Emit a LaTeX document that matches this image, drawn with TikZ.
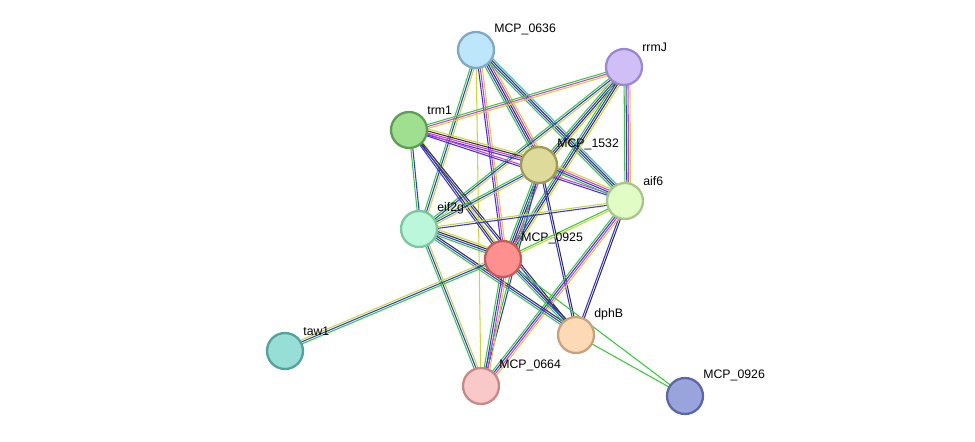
\documentclass[tikz,border=0pt]{standalone}
\usepackage{fontspec}
\setmainfont{Liberation Sans}
\usetikzlibrary{calc}
\definecolor{cGreen}{HTML}{33CC33}
\definecolor{cBlue}{HTML}{3333EE}
\definecolor{cBlack}{HTML}{333333}
\definecolor{cMag}{HTML}{DD33DD}
\definecolor{cYel}{HTML}{C8D830}
\definecolor{cCyan}{HTML}{33BBCC}
\newcommand{\bundle}[3]{
  \foreach \c [count=\i] in {#3} {
    \pgfmathsetmacro{\off}{(\i-1)*1.1}
    \draw[\c, line width=0.6pt] ($(#1)!\off pt!90:(#2)$) -- ($(#2)!\off pt!-90:(#1)$);
  }}
\newcommand{\prot}[6]{ \definecolor{f#1}{HTML}{#5}\definecolor{d#1}{HTML}{#6}
  \node[prot, fill=f#1, draw=d#1] (n#1) at (p#1) {}; \node[lbl] at ($(p#1)+(18,-15)$) {#4};}
\tikzset{
  prot/.style={circle, minimum size=0.72cm, line width=1.3pt, inner sep=0pt},
  lbl/.style={anchor=south west, font=\fontsize{7}{8}\selectfont, inner sep=0pt}
}
\begin{document}
\begin{tikzpicture}[x=0.02cm, y=-0.02cm]
        \useasboundingbox (0,0) rectangle (975,442);
        % centres
        \coordinate (p0636) at (476,50);
        \coordinate (prrmJ) at (624,67);
        \coordinate (ptrm1) at (409,130);
        \coordinate (p1532) at (539,165);
        \coordinate (paif6) at (625,201);
        \coordinate (peif) at (419,229);
        \coordinate (p0925) at (503,259);
        \coordinate (pdphB) at (576,335);
        \coordinate (ptaw1) at (285,351);
        \coordinate (p0664) at (481,386);
        \coordinate (p0926) at (685,396);
        % edges
        \bundle{p0636}{p1532}{cGreen,cBlue,cBlack,cMag,cYel}
        \bundle{p0636}{paif6}{cGreen,cBlue,cBlack,cCyan}
        \bundle{p0636}{p0925}{cBlue,cMag,cYel}
        \bundle{p0636}{peif}{cGreen,cBlue,cYel}
        \bundle{p0636}{p0664}{cYel}
        \bundle{prrmJ}{ptrm1}{cGreen,cMag,cYel}
        \bundle{prrmJ}{p1532}{cGreen,cBlue,cBlack,cYel}
        \bundle{prrmJ}{paif6}{cGreen,cBlue,cMag,cYel}
        \bundle{prrmJ}{peif}{cGreen,cBlue,cYel}
        \bundle{prrmJ}{p0925}{cGreen,cBlue,cBlack,cYel}
        \bundle{ptrm1}{p1532}{cBlue,cMag,cBlack,cYel}
        \bundle{ptrm1}{paif6}{cBlue,cMag}
        \bundle{ptrm1}{peif}{cGreen,cBlue}
        \bundle{ptrm1}{p0925}{cBlue,cBlack,cYel}
        \bundle{ptrm1}{pdphB}{cBlue,cBlack}
        \bundle{p1532}{paif6}{cGreen,cBlue,cMag,cYel}
        \bundle{p1532}{peif}{cGreen,cBlue,cYel}
        \bundle{p1532}{p0925}{cGreen,cBlue,cBlack,cMag}
        \bundle{p1532}{pdphB}{cBlue,cBlack}
        \bundle{p1532}{p0664}{cGreen,cBlue}
        \bundle{paif6}{peif}{cYel,cBlue}
        \bundle{paif6}{p0925}{cGreen,cYel}
        \bundle{paif6}{pdphB}{cBlue,cBlack}
        \bundle{paif6}{p0664}{cGreen,cBlue,cMag,cYel}
        \bundle{peif}{p0925}{cGreen,cBlue,cBlack,cYel}
        \bundle{peif}{pdphB}{cGreen,cBlue,cBlack}
        \bundle{peif}{p0664}{cGreen,cBlue,cYel}
        \bundle{ptaw1}{p0925}{cGreen,cBlue,cYel}
        \bundle{p0925}{pdphB}{cGreen,cBlue,cBlack}
        \bundle{p0925}{p0664}{cGreen,cBlue,cMag,cYel}
        \bundle{p0925}{p0926}{cGreen}
        \bundle{pdphB}{p0926}{cGreen}
        % proteins
        \prot{0636}{}{}{MCP\_0636}{BDE6FA}{7DA8C8}
        \prot{rrmJ}{}{}{rrmJ}{D0BFF7}{9C86D6}
        \prot{trm1}{}{}{trm1}{A0DE90}{5E9E50}
        \prot{1532}{}{}{MCP\_1532}{DEDA9A}{9F9A55}
        \prot{aif6}{}{}{aif6}{E1FCC4}{A6C78A}
        \prot{eif}{}{}{eif2g}{BBF7DA}{7CC7A0}
        \prot{0925}{}{}{MCP\_0925}{FF9090}{C85A5A}
        \prot{dphB}{}{}{dphB}{FDD9B5}{C8A27C}
        \prot{taw1}{}{}{taw1}{96DED6}{4FA39A}
        \prot{0664}{}{}{MCP\_0664}{F9C8C8}{C88888}
        \prot{0926}{}{}{MCP\_0926}{9AA4DC}{5A66A8}
\end{tikzpicture}
\end{document}
